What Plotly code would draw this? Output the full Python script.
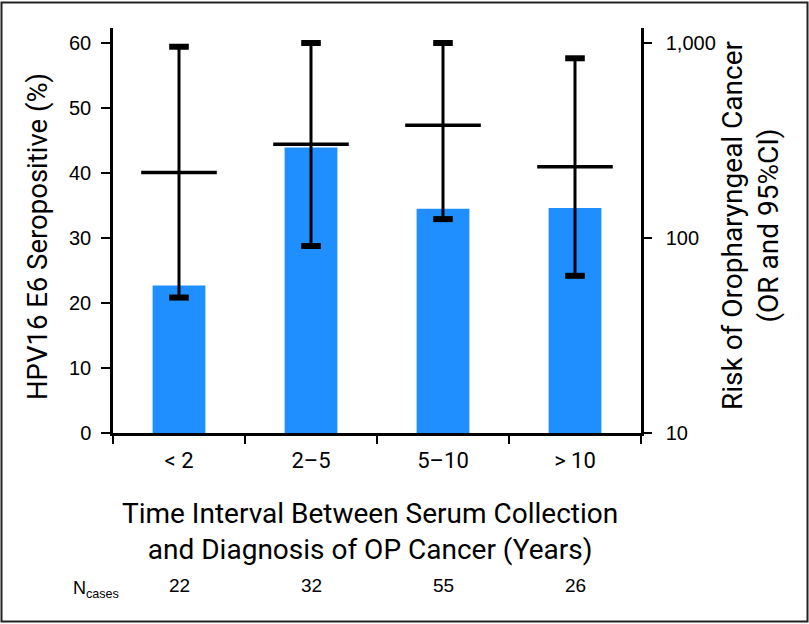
import plotly.graph_objects as go

categories = ["< 2", "2–5", "5–10", "> 10"]
seropositive_pct = [22.7, 43.9, 34.5, 34.6]
or_point = [217, 303, 379, 232]
or_lower = [49.5, 91, 125, 64]
or_upper = [957, 1000, 1000, 835]
n_cases = [22, 32, 55, 26]
left_ticks = [0, 10, 20, 30, 40, 50, 60]
right_ticks = [10, 100, 1000]
right_ticktext = ["10", "100", "1,000"]

W, H = 809, 624
L, R, T, B = 113, 168, 28, 191
pw, ph = W - L - R, H - T - B


def px_x(p):
    return (p - L) / pw


def px_y(p):
    return (T + ph - p) / ph


NARROW = "Roboto, DejaVu Sans Condensed, Liberation Sans, sans-serif"
REG = "Liberation Sans, Arial, sans-serif"

fig = go.Figure()
fig.add_trace(go.Bar(x=categories, y=seropositive_pct, marker_color="#1f8fff",
                     marker_line_width=0, width=0.4, yaxis="y", showlegend=False))

# CI vertical lines
xs, ys = [], []
for c, lo, hi in zip(categories, or_lower, or_upper):
    xs += [c, c, None]
    ys += [lo, hi, None]
fig.add_trace(go.Scatter(x=xs, y=ys, mode="lines", line=dict(color="black", width=3),
                         yaxis="y2", showlegend=False, hoverinfo="skip"))
# CI caps
fig.add_trace(go.Scatter(x=categories + categories, y=or_lower + or_upper, mode="markers",
                         marker=dict(symbol="line-ew", size=14, line=dict(color="black", width=6)),
                         yaxis="y2", showlegend=False))
# OR point
fig.add_trace(go.Scatter(x=categories, y=or_point, mode="markers",
                         marker=dict(symbol="line-ew", size=54, line=dict(color="black", width=3.5)),
                         yaxis="y2", showlegend=False))

fig.update_layout(
    width=W, height=H, margin=dict(l=L, r=R, t=T, b=B, pad=0),
    paper_bgcolor="white", plot_bgcolor="white",
    xaxis=dict(type="category", range=[-0.5, 3.5], showline=True, linecolor="black", linewidth=2.5,
               ticks="outside", tickson="boundaries", ticklen=8, tickwidth=1.5, tickcolor="black",
               tickfont=dict(family=NARROW, size=22, color="black"), ticklabelstandoff=6,
               showgrid=False, zeroline=False),
    yaxis=dict(range=[0, 62.3], tickvals=left_ticks, showline=True, linecolor="black", linewidth=2.5,
               ticks="outside", ticklen=9, tickwidth=1.5, tickcolor="black",
               tickfont=dict(family=REG, size=20, color="black"), ticklabelstandoff=6,
               showgrid=False, zeroline=False),
    yaxis2=dict(type="log", range=[1, 3.077], overlaying="y", side="right",
                tickvals=right_ticks, ticktext=right_ticktext, showline=True, linecolor="black",
                linewidth=2.5, ticks="outside", ticklen=8, tickwidth=1.5, tickcolor="black",
                tickfont=dict(family=REG, size=20, color="black"), ticklabelstandoff=10,
                showgrid=False, zeroline=False),
)

annos = []
annos.append(dict(text="HPV16 E6 Seropositive (%)", xref="paper", yref="paper",
                  x=px_x(37), y=px_y(237), textangle=-90, showarrow=False,
                  font=dict(family=NARROW, size=27.5, color="black"), xanchor="center", yanchor="middle"))
annos.append(dict(text="Risk of Oropharyngeal Cancer<br>(OR and 95%CI)", xref="paper", yref="paper",
                  x=px_x(751), y=px_y(225), textangle=-90, showarrow=False,
                  font=dict(family=NARROW, size=28, color="black"), xanchor="center", yanchor="middle"))
annos.append(dict(text="Time Interval Between Serum Collection<br>and Diagnosis of OP Cancer (Years)",
                  xref="paper", yref="paper", x=px_x(370), y=px_y(531),
                  showarrow=False, font=dict(family=NARROW, size=28, color="black"),
                  xanchor="center", yanchor="middle"))
annos.append(dict(text="N<sub>cases</sub>", xref="paper", yref="paper", x=px_x(71),
                  y=px_y(589), showarrow=False, xanchor="left", yanchor="middle",
                  font=dict(family=REG, size=18, color="black")))
for c, n in zip(categories, n_cases):
    annos.append(dict(text=str(n), x=c, xref="x", yref="paper", y=px_y(585),
                      showarrow=False, xanchor="center", yanchor="middle",
                      font=dict(family=REG, size=19, color="black")))
fig.update_layout(annotations=annos)

fig.add_shape(type="rect", xref="paper", yref="paper",
              x0=px_x(1.5), x1=px_x(807.5), y0=px_y(621.5), y1=px_y(2.5),
              line=dict(color="#222", width=2), layer="above")

fig.write_html("out.html", config={"displayModeBar": False},
               post_script="document.body.style.margin='0';")
